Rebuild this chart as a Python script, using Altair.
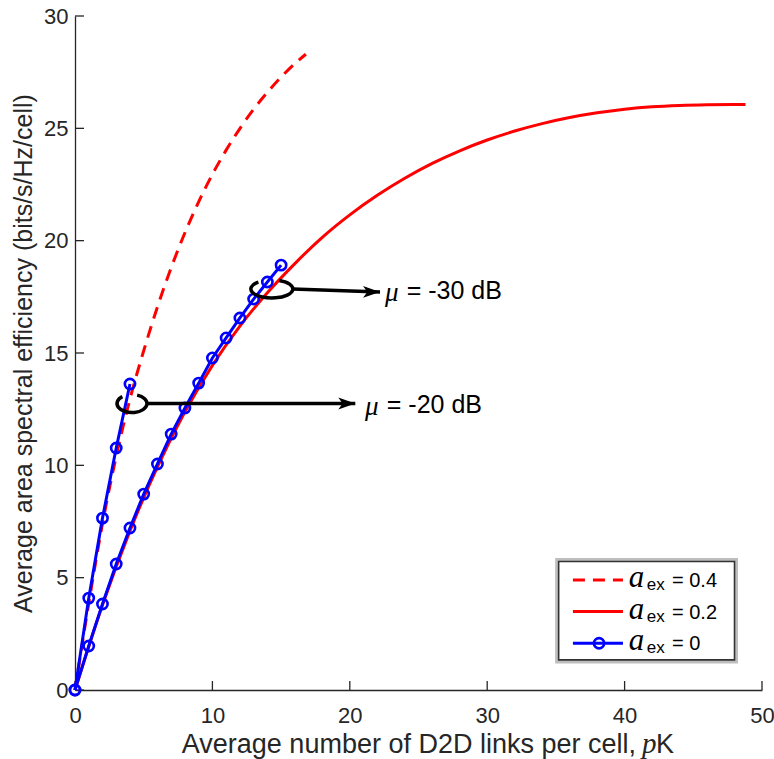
import altair as alt
import pandas as pd

# ---------------- data ----------------
X_TICKS = [0, 10, 20, 30, 40, 50]
Y_TICKS = [0, 5, 10, 15, 20, 25, 30]

# a_ex = 0 (blue, circles), mu = -20 dB
b20_x = [0, 1, 2, 3, 4]
b20_y = [0.0, 4.09, 7.65, 10.77, 13.62]
# a_ex = 0 (blue, circles), mu = -30 dB
b30_x = [0, 1, 2, 3, 4, 5, 6, 7, 8, 9, 10, 11, 12, 13, 14, 15]
b30_y = [0.0, 1.96, 3.83, 5.61, 7.21, 8.72, 10.06, 11.39, 12.55, 13.66,
         14.78, 15.67, 16.56, 17.40, 18.16, 18.91]
# a_ex = 0.4 (red dashed)
d_x = [0, 1, 2, 3, 4, 5, 6, 7, 8, 9, 10, 11, 12, 13, 14, 15, 16, 16.8]
d_y = [0.0, 3.85, 7.4, 10.4, 12.95, 15.1, 17.05, 18.8, 20.35, 21.73, 22.95,
       24.03, 24.99, 25.85, 26.6, 27.28, 27.88, 28.3]
# a_ex = 0.2 (red solid)
r_x = [0, 2, 4, 6, 8, 10, 12, 14, 16, 18, 20, 22, 24, 26, 28, 30, 32, 34,
       36, 38, 40, 42, 44, 46, 48, 48.8]
r_y = [0.0, 3.78, 7.08, 9.93, 12.38, 14.45, 16.2, 17.68, 18.98, 20.15,
       21.15, 22.02, 22.78, 23.44, 24.0, 24.48, 24.88, 25.21, 25.48, 25.69,
       25.85, 25.96, 26.02, 26.05, 26.06, 26.06]

# annotations (mu)
ann_text = ["= -20 dB", "= -30 dB"]
ann_cx = [4.15, 14.33]
ann_cy = [12.75, 17.85]
ann_x1 = [5.3, 15.85]
ann_x2 = [20.4, 22.2]
ann_y1 = [12.75, 17.85]
ann_y2 = [12.75, 17.72]
ann_mu_x = [21.1, 22.56]
ann_eq_x = [22.69, 24.14]
ann_ty = [12.7, 17.78]

# legend
leg_labels = ["= 0.4", "= 0.2", "= 0"]
leg_y = [4.90, 3.49, 2.08]
leg_box = dict(x=35.2, x2=48.0, y=1.34, y2=5.72)
leg_line_x = [36.24, 39.88]
leg_mark_x = 38.14
leg_a_x = 40.3
leg_ex_x = 41.62
leg_eq_x = 43.45

x_title = "Average number of D2D links per cell,"
y_title = "Average area spectral efficiency (bits/s/Hz/cell)"

# ---------------- styling ----------------
AX = "#262626"
FONT = "Liberation Sans"
SERIF = "Liberation Serif"
RED = "#ff0000"
BLUE = "#0000ff"

xs = alt.Scale(domain=[0, 50], nice=False, zero=False)
ys = alt.Scale(domain=[0, 30], nice=False, zero=False)
xaxis = alt.Axis(values=X_TICKS, ticks=False, labelPadding=15, title=None,
                 grid=False, domainColor=AX, domainWidth=1.3, labelColor=AX,
                 labelFont=FONT, labelFontSize=22, labelFlush=False)
yaxis = alt.Axis(values=Y_TICKS, ticks=False, labelPadding=7, title=y_title,
                 titleFont=FONT, titleFontSize=25, titleFontWeight="normal",
                 titleColor=AX, titlePadding=7, grid=False, domainColor=AX,
                 domainWidth=1.3, labelColor=AX, labelFont=FONT,
                 labelFontSize=22, labelFlush=False)


def X(f):
    return alt.X(f, type="quantitative", scale=xs, axis=xaxis)


def Y(f):
    return alt.Y(f, type="quantitative", scale=ys, axis=yaxis)


df_b20 = pd.DataFrame({"x": b20_x, "y": b20_y})
df_b30 = pd.DataFrame({"x": b30_x, "y": b30_y})
df_d = pd.DataFrame({"x": d_x, "y": d_y})
df_r = pd.DataFrame({"x": r_x, "y": r_y})

layers = []

# inward ticks
layers.append(alt.Chart(pd.DataFrame({"v": Y_TICKS})).mark_rule(color=AX, strokeWidth=1.3)
              .encode(y=Y("v"), x=alt.value(0), x2=alt.value(9)))
layers.append(alt.Chart(pd.DataFrame({"v": X_TICKS})).mark_rule(color=AX, strokeWidth=1.3)
              .encode(x=X("v"), y=alt.value(674), y2=alt.value(665)))

# red curves
layers.append(alt.Chart(df_r).mark_line(color=RED, strokeWidth=3, interpolate="monotone")
              .encode(x=X("x"), y=Y("y")))
layers.append(alt.Chart(df_d).mark_line(color=RED, strokeWidth=3, strokeDash=[12, 8],
                                        interpolate="monotone")
              .encode(x=X("x"), y=Y("y")))
# blue curves
for df in (df_b20, df_b30):
    layers.append(alt.Chart(df).mark_line(color=BLUE, strokeWidth=3)
                  .encode(x=X("x"), y=Y("y")))
    layers.append(alt.Chart(df).mark_point(color=BLUE, filled=False, strokeWidth=2.6,
                                           size=105, opacity=1, shape="circle")
                  .encode(x=X("x"), y=Y("y")))

# annotations: ellipses
ell20 = "M -0.643 -0.46 A 1 0.6 0 1 0 0.342 -0.564"
ell30 = "M -0.643 -0.33 A 1 0.43 0 1 0 0.342 -0.404"
layers.append(alt.Chart(pd.DataFrame({"x": [ann_cx[0]], "y": [ann_cy[0]]}))
              .mark_point(shape=ell20, size=900, filled=False, color="black",
                          strokeWidth=3.5, opacity=1)
              .encode(x=X("x"), y=Y("y")))
layers.append(alt.Chart(pd.DataFrame({"x": [ann_cx[1]], "y": [ann_cy[1]]}))
              .mark_point(shape=ell30, size=1764, filled=False, color="black",
                          strokeWidth=3.5, opacity=1)
              .encode(x=X("x"), y=Y("y")))

df_ann = pd.DataFrame({"x1": ann_x1, "x2": ann_x2, "y1": ann_y1, "y2": ann_y2,
                       "mx": ann_mu_x, "ex": ann_eq_x, "ty": ann_ty, "t": ann_text})
layers.append(alt.Chart(df_ann).mark_rule(color="black", strokeWidth=3.5)
              .encode(x=X("x1"), x2=alt.X2("x2"), y=Y("y1"), y2=alt.Y2("y2")))
arrow = "M 0 0 L -2 -0.7 L -1.5 0 L -2 0.7 Z"
layers.append(alt.Chart(df_ann).mark_point(shape=arrow, size=289, filled=True,
                                           color="black", opacity=1)
              .encode(x=X("x2"), y=Y("y2")))
layers.append(alt.Chart(df_ann).mark_text(text="μ", font=SERIF, fontStyle="italic",
                                          fontSize=27, align="left", baseline="middle",
                                          color="black", dy=2)
              .encode(x=X("mx"), y=Y("ty")))
layers.append(alt.Chart(df_ann).mark_text(font=FONT, fontSize=25, align="left",
                                          baseline="middle", color="black")
              .encode(x=X("ex"), y=Y("ty"), text="t:N"))

# legend
df_box = pd.DataFrame([leg_box])
layers.append(alt.Chart(df_box).mark_rect(fill="white", stroke="#444444", strokeWidth=7,
                                          strokeOpacity=0.35)
              .encode(x=X("x"), x2=alt.X2("x2"), y=Y("y"), y2=alt.Y2("y2")))
layers.append(alt.Chart(df_box).mark_rect(fill="white", stroke="#333333", strokeWidth=1.6)
              .encode(x=X("x"), x2=alt.X2("x2"), y=Y("y"), y2=alt.Y2("y2")))
df_leg = pd.DataFrame({"x1": [leg_line_x[0]] * 3, "x2": [leg_line_x[1]] * 3,
                       "y": leg_y, "lab": leg_labels,
                       "mx": [leg_mark_x] * 3, "ax": [leg_a_x] * 3,
                       "exx": [leg_ex_x] * 3, "eqx": [leg_eq_x] * 3})
layers.append(alt.Chart(df_leg.iloc[[0]]).mark_rule(color=RED, strokeWidth=3, strokeDash=[12, 8])
              .encode(x=X("x1"), x2=alt.X2("x2"), y=Y("y")))
layers.append(alt.Chart(df_leg.iloc[[1]]).mark_rule(color=RED, strokeWidth=3)
              .encode(x=X("x1"), x2=alt.X2("x2"), y=Y("y")))
layers.append(alt.Chart(df_leg.iloc[[2]]).mark_rule(color=BLUE, strokeWidth=3)
              .encode(x=X("x1"), x2=alt.X2("x2"), y=Y("y")))
layers.append(alt.Chart(df_leg.iloc[[2]]).mark_point(color=BLUE, filled=False, strokeWidth=2.6,
                                                     size=105, opacity=1, shape="circle")
              .encode(x=X("mx"), y=Y("y")))
layers.append(alt.Chart(df_leg).mark_text(text="a", font=SERIF, fontStyle="italic",
                                          fontSize=31, align="left", baseline="alphabetic",
                                          dy=7, color="black")
              .encode(x=X("ax"), y=Y("y")))
layers.append(alt.Chart(df_leg).mark_text(text="ex", font=FONT, fontSize=17, align="left",
                                          baseline="alphabetic", dy=10, color="black")
              .encode(x=X("exx"), y=Y("y")))
layers.append(alt.Chart(df_leg).mark_text(font=FONT, fontSize=20, align="left",
                                          baseline="alphabetic", dy=7, color="black")
              .encode(x=X("eqx"), y=Y("y"), text="lab:N"))

# x axis title (with italic p)
df_xt = pd.DataFrame({"t": [x_title]})
layers.append(alt.Chart(df_xt).mark_text(font=FONT, fontSize=27, align="right",
                                         baseline="alphabetic", color=AX)
              .encode(x=alt.value(561), y=alt.value(737), text="t:N"))
layers.append(alt.Chart(df_xt).mark_text(text="p", font=SERIF, fontStyle="italic",
                                         fontSize=29, align="left", baseline="alphabetic",
                                         color=AX)
              .encode(x=alt.value(567), y=alt.value(737)))
layers.append(alt.Chart(df_xt).mark_text(text="K", font=FONT, fontSize=27, align="left",
                                         baseline="alphabetic", color=AX)
              .encode(x=alt.value(581), y=alt.value(737)))

chart = (alt.layer(*layers)
         .properties(width=687, height=674, autosize=alt.AutoSizeParams(type="none"),
                     padding={"left": 75, "top": 16, "right": 12, "bottom": 69},
                     background="white")
         .configure_view(stroke=None))

chart.save("out.html", embed_options={"renderer": "svg", "actions": False})
